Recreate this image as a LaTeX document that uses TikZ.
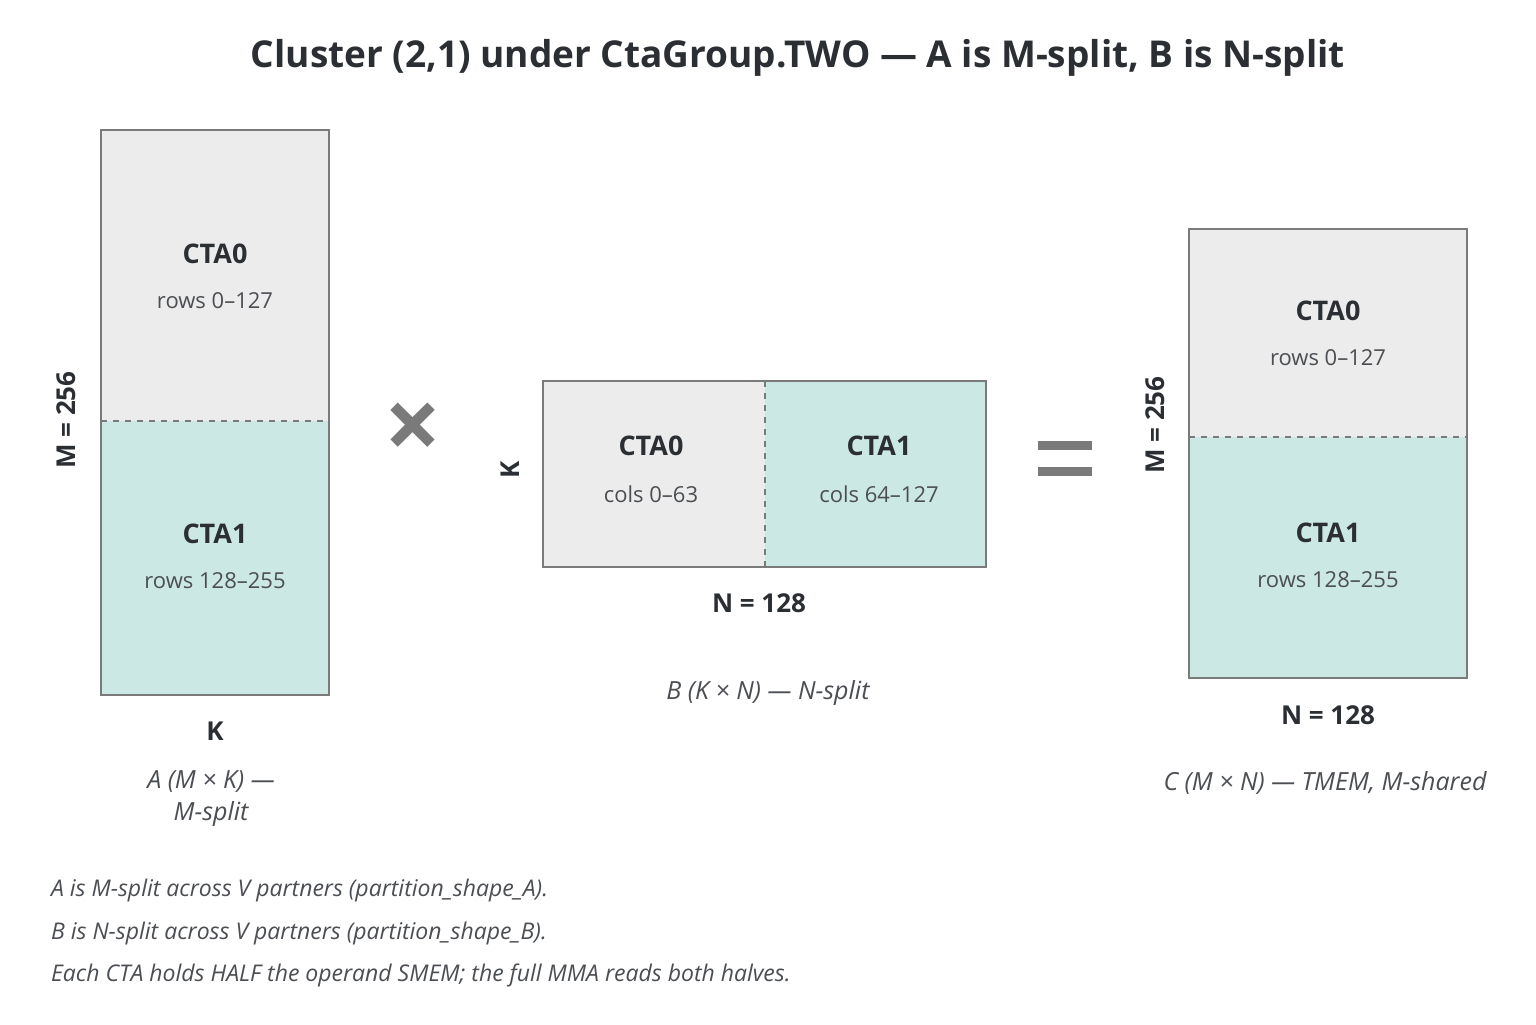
\documentclass[tikz,border=0pt]{standalone}
\usepackage{fontspec}
\setmainfont{Open Sans}
\usetikzlibrary{positioning}
\definecolor{ink}{HTML}{2B2F33}
\definecolor{cellgray}{HTML}{ECECEC}
\definecolor{cellteal}{HTML}{CCE8E4}
\definecolor{edge}{HTML}{7A7A7A}
\tikzset{
ctaname/.style={font=\fontsize{13.5}{16}\selectfont\bfseries, text=ink}, % CTA names
rangetxt/.style={font=\fontsize{11}{14}\selectfont, text=ink!85}, % row/col ranges
dimtxt/.style={font=\fontsize{13}{15}\selectfont\bfseries, text=ink}, % dimension labels
captxt/.style={font=\fontsize{12.5}{16}\selectfont\itshape, text=ink!85, align=center}, % captions
notetxt/.style={font=\fontsize{11.5}{13}\selectfont\itshape, text=ink!85, anchor=west},
matbox/.style={draw=edge, line width=0.8pt},
splitline/.style={draw=edge, dashed, line width=0.6pt},
}
\begin{document}
\begin{tikzpicture}[x=0.5pt,y=-0.5pt]
\useasboundingbox[fill=white] (0,0) rectangle (1536,1024);
\node[font=\fontsize{18.5}{22}\selectfont\bfseries, text=ink] (title) at (798,58) {Cluster (2,1) under CtaGroup.TWO — A is M-split, B is N-split};
% matrix A
\fill[cellgray] (101,130) rectangle (329,421);
\fill[cellteal] (101,421) rectangle (329,695);
\draw[splitline] (101,421) -- (329,421);
\draw[matbox] (101,130) rectangle (329,695);
\node[ctaname] (a0) at (215,254) {CTA0};
\node[rangetxt] (a0r) at (215,301) {rows 0–127};
\node[ctaname] (a1) at (215,534) {CTA1};
\node[rangetxt] (a1r) at (215,581) {rows 128–255};
\node[dimtxt, rotate=90] (am) at (66,420) {M = 256};
\node[dimtxt] (ak) at (215,731) {K};
\node[captxt] (acap) at (211,799) {A (M × K) —\\M-split};
% times
\node[font=\fontsize{50}{50}\selectfont\bfseries, text=edge] (times) at (413,432) {×};
% matrix B
\fill[cellgray] (543,381) rectangle (765,567);
\fill[cellteal] (765,381) rectangle (986,567);
\draw[splitline] (765,381) -- (765,567);
\draw[matbox] (543,381) rectangle (986,567);
\node[ctaname] (b0) at (651,446) {CTA0};
\node[rangetxt] (b0r) at (651,494) {cols 0–63};
\node[ctaname] (b1) at (879,446) {CTA1};
\node[rangetxt] (b1r) at (879,494) {cols 64–127};
\node[dimtxt, rotate=90] (bk) at (510,470) {K};
\node[dimtxt] (bn) at (759,603) {N = 128};
\node[captxt] (bcap) at (768,693) {B (K × N) — N-split};
% equals
\fill[edge] (1038,441) rectangle (1092,450);
\fill[edge] (1038,467) rectangle (1092,476);
% matrix C
\fill[cellgray] (1189,229) rectangle (1467,437);
\fill[cellteal] (1189,437) rectangle (1467,678);
\draw[splitline] (1189,437) -- (1467,437);
\draw[matbox] (1189,229) rectangle (1467,678);
\node[ctaname] (c0) at (1328,311) {CTA0};
\node[rangetxt] (c0r) at (1328,358) {rows 0–127};
\node[ctaname] (c1) at (1328,533) {CTA1};
\node[rangetxt] (c1r) at (1328,580) {rows 128–255};
\node[dimtxt, rotate=90] (cm) at (1155,425) {M = 256};
\node[dimtxt] (cn) at (1328,715) {N = 128};
\node[captxt] (ccap) at (1325,783) {C (M × N) — TMEM, M-shared};
% notes
\node[notetxt] (n1) at (44,890) {A is M-split across V partners (partition\_shape\_A).};
\node[notetxt] (n2) at (44,933) {B is N-split across V partners (partition\_shape\_B).};
\node[notetxt] (n3) at (44,975) {Each CTA holds HALF the operand SMEM; the full MMA reads both halves.};
\end{tikzpicture}
\end{document}
